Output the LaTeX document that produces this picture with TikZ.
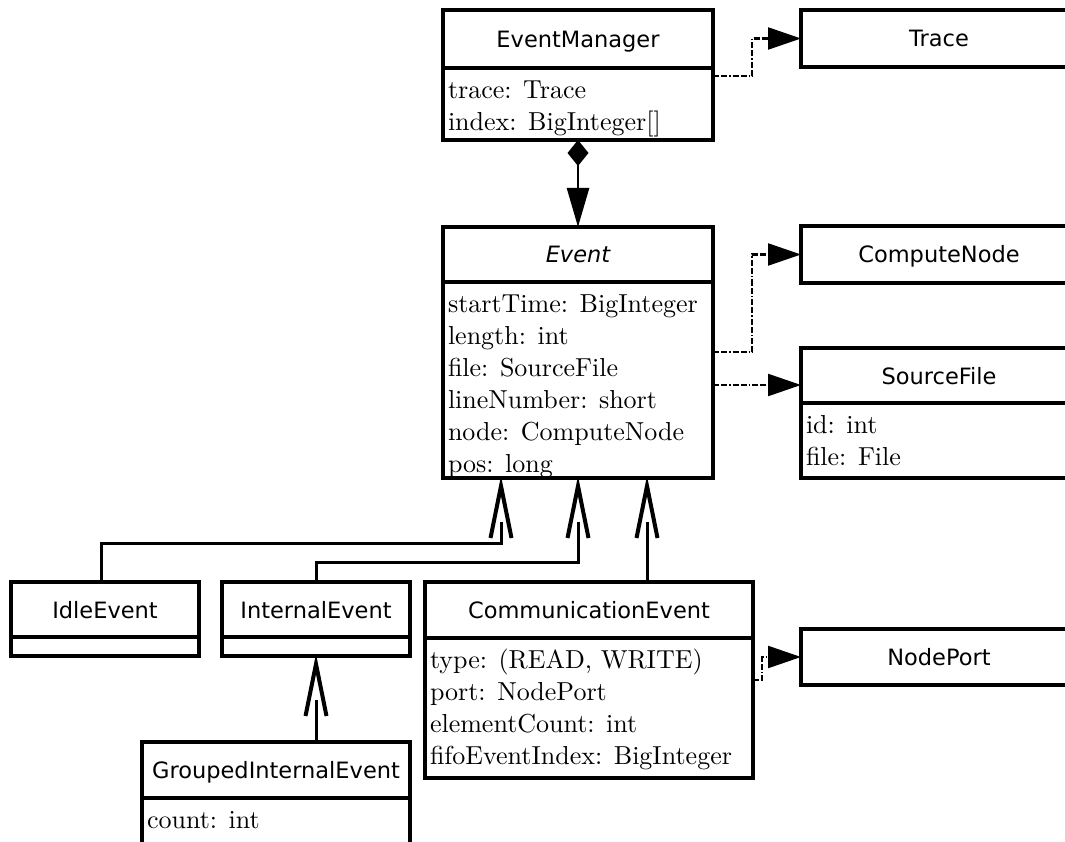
\documentclass[tikz,border=0pt]{standalone}
\usepackage{fontspec}
\newfontfamily\hdrfont{DejaVu Sans}
\newfontfamily\attrfont{lmroman10-regular}[Extension=.otf]
\usetikzlibrary{arrows.meta}

% open generalisation head: two strokes meeting at the tip
\newcommand\openhead[1]{%
  \draw[genhead] ([shift={(-10.5pt,-52pt)}]#1) -- (#1) -- ([shift={(10.5pt,-52pt)}]#1);}

\begin{document}
\begin{tikzpicture}[x=1pt,y=-1pt,
  box/.style={draw, line width=3.5pt, inner sep=0pt, outer sep=0pt, anchor=north west},
  hdr/.style={box, font=\hdrfont\fontsize{22.5}{26}\selectfont, text height=17pt, text depth=0pt},
  bdy/.style={box},
  attrs/.style={inner sep=0pt, outer sep=0pt, anchor=north west, align=left,
                font=\attrfont\fontsize{26}{32}\selectfont},
  dep/.style={line width=2.3pt, dash pattern=on 6pt off 2pt on 6pt off 2pt on 1.5pt off 2pt,
              -{Triangle[length=33pt,width=22pt]}},
  comp/.style={line width=2.5pt,
               {Diamond[length=26pt,width=21pt]}-{Triangle[length=39pt,width=22pt]}},
  genline/.style={line width=3pt},
  genhead/.style={line width=4pt, line join=miter},
]
\clip (0,0) rectangle (1065,842);
\fill[white] (0,0) rectangle (1065,842);

% ---------- classes ----------
\node[hdr, minimum width=270pt, minimum height=58pt] (em) at (443,10) {EventManager};
\node[bdy, minimum width=270pt, minimum height=72pt] (emb) at (em.south west) {};
\node[attrs] (emt) at ([shift={(5,8)}]emb.north west) {\strut trace: Trace\\index: BigInteger[]};

\node[hdr, minimum width=276pt, minimum height=57pt] (trace) at (801,10) {Trace};

\node[hdr, minimum width=270pt, minimum height=55pt] (evh) at (443,227) {\itshape Event};
\node[bdy, minimum width=270pt, minimum height=196pt] (evb) at (evh.south west) {};
\node[attrs] (evt) at ([shift={(5,8)}]evb.north west)
  {\strut startTime: BigInteger\\length: int\\file: SourceFile\\lineNumber: short\\node: ComputeNode\\pos: long};

\node[hdr, minimum width=276pt, minimum height=57pt] (cn) at (801,226) {ComputeNode};

\node[hdr, minimum width=276pt, minimum height=55pt] (sfh) at (801,348) {SourceFile};
\node[bdy, minimum width=276pt, minimum height=75pt] (sfb) at (sfh.south west) {};
\node[attrs] (sft) at ([shift={(5,8)}]sfb.north west) {\strut id: int\\file: File};

\node[hdr, minimum width=188pt, minimum height=55pt] (idle) at (11,582) {IdleEvent};
\node[bdy, minimum width=188pt, minimum height=19pt] (idleb) at (idle.south west) {};

\node[hdr, minimum width=188pt, minimum height=55pt] (inh) at (222,582) {InternalEvent};
\node[bdy, minimum width=188pt, minimum height=19pt] (inb) at (inh.south west) {};

\node[hdr, minimum width=328pt, minimum height=56pt] (ceh) at (425,582) {CommunicationEvent};
\node[bdy, minimum width=328pt, minimum height=140pt] (ceb) at (ceh.south west) {};
\node[attrs] (cet) at ([shift={(5,8)}]ceb.north west)
  {\strut type: (READ, WRITE)\\port: NodePort\\elementCount: int\\fifoEventIndex: BigInteger};

\node[hdr, minimum width=276pt, minimum height=56pt] (np) at (801,629) {NodePort};

\node[hdr, minimum width=268pt, minimum height=56pt] (gh) at (142,742) {GroupedInternalEvent};
\node[bdy, minimum width=268pt, minimum height=70pt] (gb) at (gh.south west) {};
\node[attrs] (gt) at ([shift={(5,8)}]gb.north west) {\strut count: int};

% ---------- composition ----------
\draw[comp] (emb.south) -- (evh.north);

% ---------- dependencies ----------
\draw[dep] ([yshift=-8pt]emb.north east) -- ++(39,0) |- (trace.west);
\draw[dep] ([yshift=-70pt]evb.north east) -- ++(39,0) |- (cn.west);
\draw[dep] ([yshift=-103pt]evb.north east) coordinate (d3) -- (d3 -| sfh.west);
\draw[dep] ([yshift=-42pt]ceb.north east) -- ++(9,0) |- (np.west);

% ---------- generalisations ----------
\coordinate (g1) at ([shift={(58pt,-8pt)}]evb.south west);
\coordinate (g2) at ([shift={(135pt,-8pt)}]evb.south west);
\coordinate (g3) at ([shift={(204pt,-8pt)}]evb.south west);
\coordinate (g4) at ([yshift=-8pt]inb.south);

\draw[genline] ([xshift=-4pt]idle.north) -- ++(0,-39) -| ([yshift=-36pt]g1);
\draw[genline] (inh.north) -- ++(0,-20) -| ([yshift=-36pt]g2);
\draw[genline] (g3 |- ceh.north) -- ([yshift=-36pt]g3);
\draw[genline] (g4 |- gh.north) -- ([yshift=-36pt]g4);

\openhead{g1}
\openhead{g2}
\openhead{g3}
\openhead{g4}
\end{tikzpicture}
\end{document}
